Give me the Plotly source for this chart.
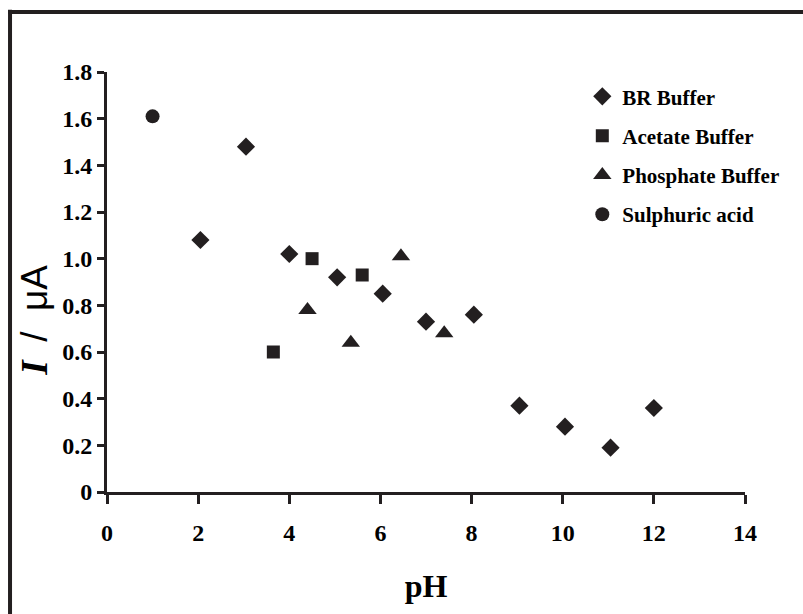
import plotly.graph_objects as go

# Data
br_ph = [2.05, 3.05, 4.0, 5.05, 6.05, 7.0, 8.05, 9.05, 10.05, 11.05, 12.0]
br_i = [1.08, 1.48, 1.02, 0.92, 0.85, 0.73, 0.76, 0.37, 0.28, 0.19, 0.36]

acetate_ph = [3.65, 4.5, 5.6]
acetate_i = [0.60, 1.00, 0.93]

phosphate_ph = [4.4, 5.35, 6.45, 7.4]
phosphate_i = [0.78, 0.64, 1.01, 0.68]

sulph_ph = [1.0]
sulph_i = [1.61]

x_ticks = [0, 2, 4, 6, 8, 10, 12, 14]
y_ticks = [0, 0.2, 0.4, 0.6, 0.8, 1.0, 1.2, 1.4, 1.6, 1.8]
y_tick_text = ["0", "0.2", "0.4", "0.6", "0.8", "1.0", "1.2", "1.4", "1.6", "1.8"]

MC = "#231f20"
FONT = "Liberation Serif"

fig = go.Figure()
series = [
    ("BR Buffer", br_ph, br_i, "diamond", 14),
    ("Acetate Buffer", acetate_ph, acetate_i, "square", 13),
    ("Phosphate Buffer", phosphate_ph, phosphate_i, "triangle-up", 16),
    ("Sulphuric acid", sulph_ph, sulph_i, "circle", 14),
]
for name, xs, ys, sym, sz in series:
    fig.add_trace(go.Scatter(
        x=xs, y=ys, mode="markers", name=name, legendgroup=name,
        marker=dict(symbol=sym, size=sz, color=MC, line=dict(width=0)),
        cliponaxis=False,
    ))

fig.update_layout(
    width=803, height=614,
    margin=dict(l=107, r=58, t=72, b=122),
    paper_bgcolor="white", plot_bgcolor="white",
    font=dict(family=FONT, color="black"),
    showlegend=True,
    legend=dict(
        x=0.745, y=0.99, xanchor="left", yanchor="top",
        font=dict(family=FONT, size=21, color="black", weight="bold"),
        bgcolor="rgba(0,0,0,0)", tracegroupgap=9,
        itemwidth=30,
    ),
    xaxis=dict(
        range=[0, 14], tickvals=x_ticks, showgrid=False, zeroline=False,
        showline=True, linecolor=MC, linewidth=3,
        ticks="outside", ticklen=9, tickwidth=3, tickcolor=MC,
        ticklabelstandoff=8,
        tickfont=dict(family=FONT, size=24, color="black", weight="bold"),
        title=dict(text="pH", standoff=30,
                   font=dict(family=FONT, size=32, color="black", weight="bold")),
        automargin=False,
    ),
    yaxis=dict(
        range=[0, 1.8], tickvals=y_ticks, ticktext=y_tick_text,
        showgrid=False, zeroline=False,
        showline=True, linecolor=MC, linewidth=3,
        ticks="outside", ticklen=7, tickwidth=3, tickcolor=MC,
        ticklabelstandoff=0,
        tickfont=dict(family=FONT, size=24, color="black", weight="bold"),
        automargin=False,
    ),
    annotations=[
        dict(
            text="<b><i>I</i></b>  <span style='font-family:Liberation Sans'>/  μA</span>",
            xref="paper", yref="paper", x=-0.113, y=0.41,
            xanchor="center", yanchor="middle", textangle=-90, showarrow=False,
            font=dict(family=FONT, size=37, color="black"),
        )
    ],
    shapes=[
        dict(type="line", xref="paper", yref="paper",
             x0=-0.155, x1=1.2, y0=1.143, y1=1.143,
             line=dict(color=MC, width=4)),
        dict(type="line", xref="paper", yref="paper",
             x0=-0.152, x1=-0.152, y0=1.148, y1=-0.35,
             line=dict(color=MC, width=4)),
    ],
)

fig.write_html("out.html")
